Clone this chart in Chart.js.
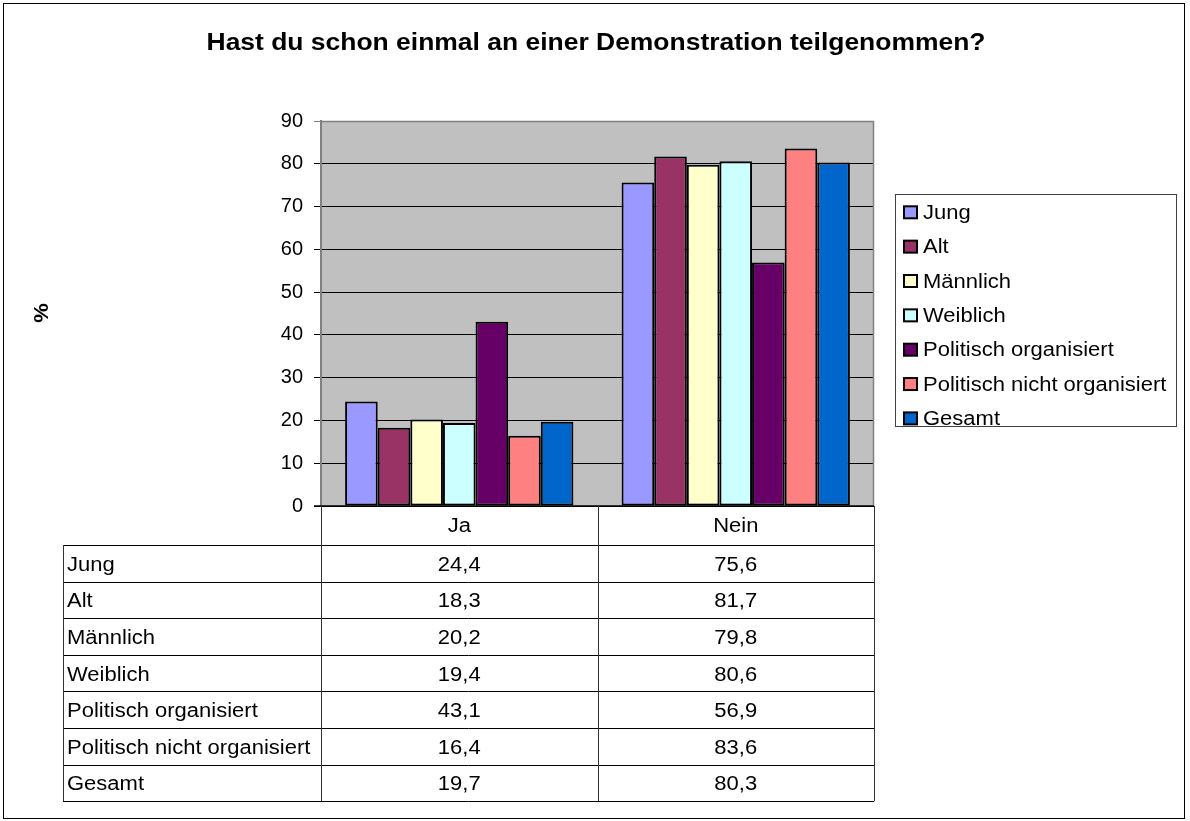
<!DOCTYPE html>
<html>
<head>
<meta charset="utf-8">
<script src="https://cdn.jsdelivr.net/npm/chart.js@4.4.1/dist/chart.umd.min.js"></script>
<style>
html,body{margin:0;padding:0;background:#fff;}
canvas{display:block;}
</style>
</head>
<body>
<canvas id="c" width="1190" height="821"></canvas>
<script>
const titleText = "Hast du schon einmal an einer Demonstration teilgenommen?";
const yAxisTitle = "%";
const categories = ["Ja", "Nein"];
const seriesNames = ["Jung", "Alt", "Männlich", "Weiblich", "Politisch organisiert", "Politisch nicht organisiert", "Gesamt"];
const jung = [24.4, 75.6];
const alt = [18.3, 81.7];
const maennlich = [20.2, 79.8];
const weiblich = [19.4, 80.6];
const polOrg = [43.1, 56.9];
const polNichtOrg = [16.4, 83.6];
const gesamt = [19.7, 80.3];
const seriesValues = [jung, alt, maennlich, weiblich, polOrg, polNichtOrg, gesamt];
const seriesColors = ["#9999FF", "#993366", "#FFFFCC", "#CCFFFF", "#660066", "#FF8080", "#0066CC"];
const yTicks = [0, 10, 20, 30, 40, 50, 60, 70, 80, 90];

const FONT = '"Liberation Sans", Arial, sans-serif';
const SX = 1.1;

function stretchedText(ctx, text, x, y, align, font, sx) {
  const s = sx || SX;
  ctx.save();
  ctx.font = font;
  ctx.textBaseline = 'middle';
  const w = ctx.measureText(text).width * s;
  let left = x;
  if (align === 'center') left = x - w / 2;
  else if (align === 'right') left = x - w;
  ctx.translate(left, y);
  ctx.scale(s, 1);
  ctx.textAlign = 'left';
  ctx.fillText(text, 0, 0);
  ctx.restore();
}

const decor = {
  id: 'decor',
  beforeDraw(chart) {
    const ctx = chart.ctx, a = chart.chartArea;
    ctx.save();
    ctx.fillStyle = '#fff';
    ctx.fillRect(0, 0, chart.width, chart.height);
    ctx.strokeStyle = '#000';
    ctx.lineWidth = 1;
    ctx.strokeRect(3.5, 3.5, 1181, 815);
    ctx.fillStyle = '#C0C0C0';
    ctx.fillRect(a.left, a.top, a.right - a.left, a.bottom - a.top);
    ctx.restore();
  },
  afterDraw(chart) {
    const ctx = chart.ctx, a = chart.chartArea;
    const xs = chart.scales.x;
    ctx.save();
    // plot border top/right
    ctx.strokeStyle = '#808080';
    ctx.lineWidth = 1.5;
    ctx.beginPath();
    ctx.moveTo(a.left, a.top + 0.5); ctx.lineTo(a.right - 0.5, a.top + 0.5); ctx.lineTo(a.right - 0.5, a.bottom);
    ctx.stroke();
    // axis baseline
    ctx.strokeStyle = '#000';
    ctx.lineWidth = 1.5;
    ctx.beginPath(); ctx.moveTo(a.left - 7, a.bottom); ctx.lineTo(a.right, a.bottom); ctx.stroke();

    ctx.fillStyle = '#000';
    // title
    stretchedText(ctx, titleText, 596, 44, 'center', 'bold 23px ' + FONT, 1.15);
    // y-axis title
    ctx.save();
    ctx.translate(42, 313);
    ctx.rotate(-Math.PI / 2);
    stretchedText(ctx, yAxisTitle, 0, 0, 'center', 'bold 20px ' + FONT);
    ctx.restore();

    // data table
    const headerTop = a.bottom, headerBottom = 545, rowH = 36.6;
    const nRows = chart.data.datasets.length;
    const tableBottom = headerBottom + rowH * nRows;
    const leftCol = 63;
    const catW = (a.right - a.left) / categories.length;
    ctx.strokeStyle = '#000';
    ctx.lineWidth = 1;
    ctx.beginPath();
    for (let r = 0; r <= nRows; r++) {
      const y = Math.round(headerBottom + r * rowH) + 0.5;
      ctx.moveTo(leftCol, y); ctx.lineTo(a.right, y);
    }
    ctx.stroke();
    ctx.strokeStyle = '#333';
    ctx.beginPath();
    for (let c = 0; c <= categories.length; c++) {
      const x = Math.round(a.left + c * catW) + 0.5;
      ctx.moveTo(x, headerTop); ctx.lineTo(x, tableBottom);
    }
    ctx.moveTo(leftCol + 0.5, headerBottom); ctx.lineTo(leftCol + 0.5, tableBottom);
    ctx.stroke();

    const f = '20px ' + FONT;
    categories.forEach((cat, i) => {
      stretchedText(ctx, cat, xs.getPixelForValue(i), (headerTop + headerBottom) / 2 + 1, 'center', f);
    });
    chart.data.datasets.forEach((ds, r) => {
      const yc = headerBottom + r * rowH + rowH / 2 + 2;
      stretchedText(ctx, ds.label, 67, yc, 'left', f);
      ds.data.forEach((v, i) => {
        stretchedText(ctx, v.toFixed(1).replace('.', ','), xs.getPixelForValue(i), yc, 'center', f);
      });
    });

    // legend
    const lx = 895.5, ly = 194.5, lw = 281, lh = 232;
    ctx.fillStyle = '#fff';
    ctx.fillRect(lx, ly, lw, lh);
    ctx.strokeStyle = '#404040';
    ctx.lineWidth = 1;
    ctx.strokeRect(lx, ly, lw, lh);
    chart.data.datasets.forEach((ds, i) => {
      const yc = 212.3 + i * 34.35;
      ctx.fillStyle = ds.backgroundColor;
      ctx.fillRect(904, yc - 6, 13, 12);
      ctx.strokeStyle = '#000';
      ctx.lineWidth = 2;
      ctx.strokeRect(904, yc - 6, 13, 12);
      ctx.fillStyle = '#000';
      stretchedText(ctx, ds.label, 923, yc + 1, 'left', f);
    });
    ctx.restore();
  }
};

new Chart(document.getElementById('c'), {
  type: 'bar',
  data: {
    labels: categories,
    datasets: seriesNames.map((name, i) => ({
      label: name,
      data: seriesValues[i],
      backgroundColor: seriesColors[i],
      borderColor: '#000',
      borderWidth: 2,
      borderSkipped: false,
      categoryPercentage: 0.8257,
      barPercentage: 1
    }))
  },
  options: {
    responsive: false,
    animation: false,
    devicePixelRatio: 1,
    layout: { padding: { top: 121, bottom: 315, left: 0, right: 316 } },
    plugins: { legend: { display: false }, title: { display: false }, tooltip: { enabled: false } },
    scales: {
      x: { display: false, offset: true },
      y: {
        min: 0, max: 90,
        afterFit(scale) { scale.width = 321; },
        afterBuildTicks(scale) { scale.ticks = yTicks.map(v => ({ value: v })); },
        ticks: { stepSize: 10, color: '#000', padding: 11, font: { family: FONT, size: 20 } },
        grid: {
          color: ctx => (ctx.tick && ctx.tick.value === 90) ? '#808080' : '#000',
          lineWidth: 1,
          tickLength: 7,
          drawTicks: true
        },
        border: { display: true, color: '#808080', width: 2 }
      }
    }
  },
  plugins: [decor]
});
</script>
</body>
</html>
